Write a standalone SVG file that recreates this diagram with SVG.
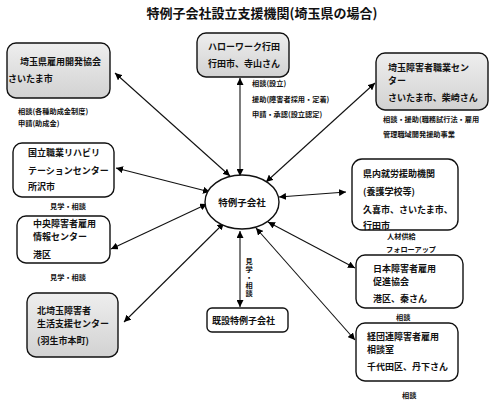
<svg xmlns="http://www.w3.org/2000/svg" width="500" height="405" viewBox="0 0 500 405">
<defs>
<linearGradient id="g" x1="0" y1="0" x2="0" y2="1">
<stop offset="0" stop-color="#eeeeee"/>
<stop offset="1" stop-color="#d2d2d2"/>
</linearGradient>
<marker id="ah" viewBox="0 0 10 10" refX="10" refY="5" markerWidth="7" markerHeight="7" markerUnits="userSpaceOnUse" orient="auto-start-reverse">
<path d="M0,0 L10,5 L0,10 z" fill="#000"/>
</marker>
<style>
text{font-family:"Noto Sans CJK JP","Noto Sans CJK SC",sans-serif;fill:#111}
.t{font-size:9px;font-weight:bold}
.s{font-size:7.2px;font-weight:bold}
.box{stroke:#111;stroke-width:1.4;fill:#fff}
.gray{fill:url(#g)}
.c line{stroke:#111;stroke-width:1.1;marker-start:url(#ah);marker-end:url(#ah)}
</style>
</defs>
<rect width="500" height="405" fill="#fff"/>
<text x="262" y="18" text-anchor="middle" style="font-size:13px;font-weight:bold">特例子会社設立支援機関(埼玉県の場合)</text>

<g class="c">
<line x1="115" y1="73" x2="230" y2="176"/>
<line x1="240" y1="78" x2="240" y2="176"/>
<line x1="375" y1="83" x2="266" y2="182"/>
<line x1="116" y1="168" x2="210" y2="192"/>
<line x1="111" y1="249" x2="207" y2="204"/>
<line x1="124" y1="322" x2="224" y2="223"/>
<line x1="240" y1="231" x2="240" y2="307"/>
<line x1="279" y1="197" x2="346" y2="192"/>
<line x1="268" y1="222" x2="355" y2="268"/>
<line x1="256" y1="228" x2="355" y2="340"/>
</g>

<g id="n-saitama-koyou">
<rect class="box gray" x="7" y="43" width="103" height="55" rx="9"/>
<text class="t" x="20" y="65">埼玉県雇用開発協会</text>
<text class="t" x="8" y="82">さいたま市</text>
<text class="s" x="18" y="114">相談(各種助成金制度)</text>
<text class="s" x="18" y="126">申請(助成金)</text>
</g>

<g id="n-hellowork">
<rect class="box gray" x="197" y="33" width="92" height="44" rx="9"/>
<text class="t" x="208" y="50">ハローワーク行田</text>
<text class="t" x="208" y="67">行田市、寺山さん</text>
<text class="s" x="252" y="86">相談(設立)</text>
<text class="s" x="252" y="102">援助(障害者採用・定着)</text>
<text class="s" x="252" y="117">申請・承認(設立認定)</text>
</g>

<g id="n-shokugyo-center">
<rect class="box gray" x="376" y="53" width="112" height="57" rx="9"/>
<text class="t" x="388" y="71">埼玉障害者職業セン</text>
<text class="t" x="388" y="84">ター</text>
<text class="t" x="388" y="101">さいたま市、柴崎さん</text>
<text class="s" x="383" y="122">相談・援助(職務試行法・雇用</text>
<text class="s" x="383" y="137">管理職域開発援助事業</text>
</g>

<g id="n-kokuritsu">
<rect class="box" x="13" y="143" width="101" height="54" rx="9"/>
<text class="t" x="28" y="156">国立職業リハビリ</text>
<text class="t" x="28" y="174">テーションセンター</text>
<text class="t" x="28" y="190">所沢市</text>
<text class="s" x="50" y="209">見学・相談</text>
</g>

<g id="n-chuou">
<rect class="box" x="17" y="216" width="93" height="47" rx="9"/>
<text class="t" x="33" y="227">中央障害者雇用</text>
<text class="t" x="33" y="240">情報センター</text>
<text class="t" x="33" y="258">港区</text>
<text class="s" x="50" y="280">見学・相談</text>
</g>

<g id="n-kitasaitama">
<rect class="box gray" x="27" y="293" width="91" height="64" rx="9"/>
<text class="t" x="37" y="314">北埼玉障害者</text>
<text class="t" x="37" y="327">生活支援センター</text>
<text class="t" x="37" y="344">(羽生市本町)</text>
</g>

<g id="n-tokurei">
<ellipse cx="242" cy="202" rx="37" ry="27" fill="#fff" stroke="#111" stroke-width="1.4"/>
<text x="242" y="206" text-anchor="middle" style="font-size:9.5px;font-weight:bold">特例子会社</text>
</g>

<g id="n-kisetsu">
<rect class="box" x="207" y="308" width="81" height="24" rx="5"/>
<text class="t" x="212" y="324">既設特例子会社</text>
<text class="s" x="249" y="258" style="writing-mode:vertical-rl;letter-spacing:0.6px">見学・相談</text>
</g>

<g id="n-kennai">
<rect class="box" x="352" y="159" width="106" height="71" rx="10"/>
<text class="t" x="363" y="177">県内就労援助機関</text>
<text class="t" x="363" y="195">(養護学校等)</text>
<text class="t" x="363" y="213">久喜市、さいたま市、</text>
<text class="t" x="363" y="229">行田市</text>
<text class="s" x="387" y="239">人材供給</text>
<text class="s" x="386" y="252">フォローアップ</text>
</g>

<g id="n-jeed">
<rect class="box" x="356" y="255" width="107" height="53" rx="9"/>
<text class="t" x="373" y="272">日本障害者雇用</text>
<text class="t" x="373" y="285">促進協会</text>
<text class="t" x="373" y="302">港区、秦さん</text>
<text class="s" x="396" y="320">相談</text>
</g>

<g id="n-keidanren">
<rect class="box" x="356" y="323" width="102" height="58" rx="9"/>
<text class="t" x="367" y="340">経団連障害者雇用</text>
<text class="t" x="367" y="353">相談室</text>
<text class="t" x="367" y="370">千代田区、丹下さん</text>
<text class="s" x="402" y="398">相談</text>
</g>
</svg>
